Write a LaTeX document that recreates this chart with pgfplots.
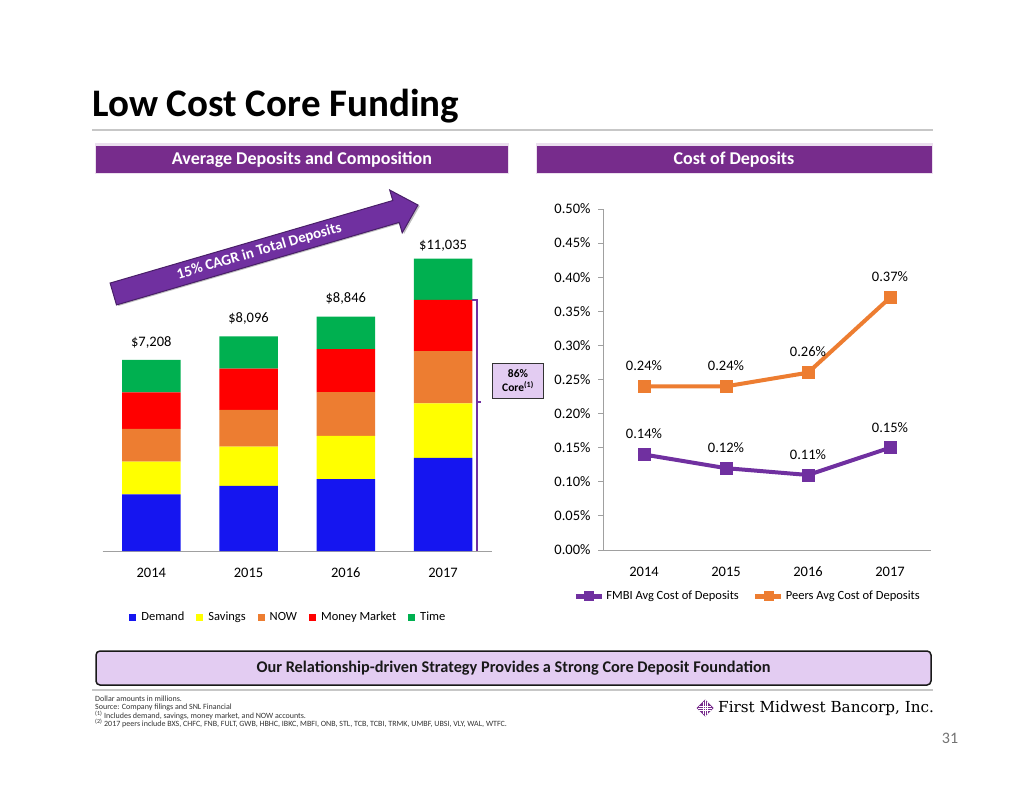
\documentclass[border=0pt]{standalone}
\usepackage{fontspec}
\setmainfont{Carlito}
\newfontfamily\logofont{DejaVu Serif}
\usepackage{pgfplots}
\usepackage{pgfplotstable}
\pgfplotsset{compat=1.18}
\pgfplotsset{/pgf/number format/assume math mode=true}

\definecolor{hdr}{HTML}{772C8C}
\definecolor{arrowp}{HTML}{7030A0}
\definecolor{fmbi}{HTML}{7030A0}
\definecolor{peers}{HTML}{ED7D31}
\definecolor{cdem}{HTML}{1515F0}
\definecolor{csav}{HTML}{FFFF00}
\definecolor{cnow}{HTML}{ED7D31}
\definecolor{cmm}{HTML}{FF0000}
\definecolor{ctime}{HTML}{00B050}
\definecolor{lav}{HTML}{E3CCF2}
\definecolor{axgrey}{HTML}{A0A0A0}

% average deposits, $ millions
\pgfplotstableread{
x Demand Savings NOW MM Time Total
0 2140 1230 1234 1385 1219 7208
1 2459 1484 1378 1559 1216 8096
2 2708 1635 1650 1624 1229 8846
3 3517 2051 1972 1934 1561 11035
}\deposits

% cost of deposits, %
\pgfplotstableread{
x FMBI Peers
0 0.14 0.24
1 0.12 0.24
2 0.11 0.26
3 0.15 0.37
}\cost

\begin{document}
\begin{tikzpicture}[x=1pt,y=-1pt]
\path[fill=white, use as bounding box] (0,0) rectangle (1024,791);

% title
\node[anchor=base west, inner sep=0] at (92,117) {\fontsize{39}{42}\selectfont\bfseries Low Cost Core Funding};
\draw[line width=2.5pt, black!22] (92,130) -- (933,130);

% section headers
\fill[hdr!15] (95,143) rectangle (509,174);
\fill[hdr] (96,146) rectangle (508,173);
\node[white, font=\fontsize{18}{20}\selectfont\bfseries] at (302,159.5) {Average Deposits and Composition};
\fill[hdr!15] (536,143) rectangle (933,174);
\fill[hdr] (537,146) rectangle (932,173);
\node[white, font=\fontsize{18}{20}\selectfont\bfseries] at (734,159.5) {Cost of Deposits};

% stacked bars
\begin{axis}[
    at={(102.7pt,-551pt)}, anchor=south west,
    scale only axis, width=389pt, height=318pt,
    xmin=-0.5, xmax=3.5, ymin=0, ymax=12000,
    ybar stacked, bar width=58.5pt,
    axis y line=none, axis x line*=bottom,
    x axis line style={draw=axgrey, line width=1pt},
    xtick={0,1,2,3}, xticklabels={2014,2015,2016,2017},
    major tick length=0pt,
    xticklabel style={font=\fontsize{14.5}{16}\selectfont, text height=9.5pt, text depth=0pt, yshift=-13pt},
    every axis plot post/.append style={
        legend image code/.code={\fill[##1] (0pt,-3.5pt) rectangle (7pt,3.5pt);}},
    legend columns=5,
    legend style={at={(0.068,-0.208)}, anchor=west, draw=none, fill=none,
        inner sep=0pt, font=\fontsize{12.5}{14}\selectfont,
        /tikz/every odd column/.append style={column sep=3pt},
        /tikz/every even column/.append style={column sep=10pt}},
]
\addplot[fill=cdem, draw=none] table[x=x, y=Demand]{\deposits};
\addlegendentry{Demand}
\addplot[fill=csav, draw=none] table[x=x, y=Savings]{\deposits};
\addlegendentry{Savings}
\addplot[fill=cnow, draw=none] table[x=x, y=NOW]{\deposits};
\addlegendentry{NOW}
\addplot[fill=cmm, draw=none] table[x=x, y=MM]{\deposits};
\addlegendentry{Money Market}
\addplot[fill=ctime, draw=none,
    point meta=\thisrow{Total},
    nodes near coords={\$\pgfmathprintnumber[1000 sep={,}]{\pgfplotspointmeta}},
    every node near coord/.append style={black, yshift=34pt,
        font=\fontsize{14.5}{16}\selectfont}]
    table[x=x, y=Time]{\deposits};
\addlegendentry{Time}
\end{axis}

% growth arrow
\begin{scope}[shift={(113.3,294)}, rotate=16.28]
\fill[black!25] (1.5,-9.9) -- (296,-9.9) -- (296,-20.8) -- (318.9,1.5) -- (296,23.8) -- (296,12.9) -- (1.5,12.9) -- cycle;
\filldraw[fill=arrowp, draw=arrowp!65!black, line width=1pt]
  (0,-11.4) -- (294.5,-11.4) -- (294.5,-22.3) -- (317.4,0) -- (294.5,22.3) -- (294.5,11.4) -- (0,11.4) -- cycle;
\node[white, rotate=16.28, font=\fontsize{15}{17}\selectfont\bfseries] at (152,0) {15\% CAGR in Total Deposits};
\end{scope}

% core bracket
\draw[arrowp, line width=1.6pt] (472,299.7) -- (477,299.7) -- (477,551);
\draw[arrowp, line width=1.6pt] (477,402) -- (481,402);
\node[draw=black!80, fill=lav, line width=1pt, minimum width=51pt, minimum height=35pt,
      align=center, inner sep=1pt, font=\fontsize{11.5}{14}\selectfont\bfseries]
      at (518,380.5) {86\%\\Core\textsuperscript{(1)}};

% cost of deposits lines
\begin{axis}[
    at={(603pt,-550pt)}, anchor=south west,
    scale only axis, width=328pt, height=341pt,
    xmin=-0.5, xmax=3.5, ymin=0, ymax=0.5,
    axis x line*=bottom, axis y line*=left,
    axis line style={draw=axgrey, line width=1pt},
    xtick={0,1,2,3}, xticklabels={2014,2015,2016,2017},
    ytick={0,0.05,0.1,0.15,0.2,0.25,0.3,0.35,0.4,0.45,0.5},
    yticklabel={\pgfmathprintnumber[fixed,fixed zerofill,precision=2]{\tick}\%},
    tick align=outside, major tick length=5pt,
    x tick style={draw=none}, y tick style={draw=axgrey, line width=1pt},
    tick label style={font=\fontsize{14.5}{16}\selectfont},
    xticklabel style={text height=9.5pt, text depth=0pt, yshift=-8pt},
    yticklabel style={xshift=-4pt},
    every axis plot post/.append style={
        legend image code/.code={\draw[mark repeat=2, mark phase=2, ##1, line width=5pt, mark size=4.5pt]
            plot coordinates {(0pt,0pt) (13pt,0pt) (26pt,0pt)};}},
    legend columns=2,
    legend style={at={(-0.091,-0.135)}, anchor=west, draw=none, fill=none,
        inner sep=0pt, font=\fontsize{12.5}{14}\selectfont,
        /tikz/every even column/.append style={column sep=12pt}},
    point meta=y,
    nodes near coords={\pgfmathprintnumber[fixed,fixed zerofill,precision=2]{\pgfplotspointmeta}\%},
    every node near coord/.append style={black, anchor=south, yshift=12pt,
        font=\fontsize{14.5}{16}\selectfont},
]
\addplot[fmbi, line width=4pt, mark=square*, mark size=6pt, mark options={line width=0.5pt}]
    table[x=x, y=FMBI]{\cost};
\addlegendentry{FMBI Avg Cost of Deposits}
\addplot[peers, line width=4pt, mark=square*, mark size=6pt, mark options={line width=0.5pt}]
    table[x=x, y=Peers]{\cost};
\addlegendentry{Peers Avg Cost of Deposits}
\end{axis}

% bottom banner
\draw[fill=lav, draw=black!90, line width=1.5pt, rounded corners=4pt] (96,651) rectangle (931,685);
\node[font=\fontsize{16.3}{18}\selectfont\bfseries, text=black!90] at (513.5,668) {Our Relationship-driven Strategy Provides a Strong Core Deposit Foundation};
\draw[line width=2.5pt, black!22] (92,690) -- (933,690);

% footnotes
\begin{scope}[every node/.style={anchor=base west, inner sep=0, font=\fontsize{8}{9}\selectfont, text=black!80}]
\node at (95,701) {Dollar amounts in millions.};
\node at (95,709.5) {Source: Company filings and SNL Financial};
\node at (95,718) {\textsuperscript{(1)} Includes demand, savings, money market, and NOW accounts.};
\node at (95,726.5) {\textsuperscript{(2)} 2017 peers include BXS, CHFC, FNB, FULT, GWB, HBHC, IBKC, MBFI, ONB, STL, TCB, TCBI, TRMK, UMBF, UBSI, VLY, WAL, WTFC.};
\end{scope}

% logo
\fill[hdr] (705,699.5) -- (713.5,708) -- (705,716.5) -- (696.5,708) -- cycle;
\draw[white, line width=0.5pt] (703,702) -- (703,714) (705,700) -- (705,716) (707,702) -- (707,714)
    (699,706) -- (711,706) (698,708) -- (712,708) (699,710) -- (711,710);
\node[anchor=west, inner sep=0] at (718,708) {\logofont\fontsize{15.2}{17}\selectfont First Midwest Bancorp, Inc.};
\node[text=black!55, font=\fontsize{16}{18}\selectfont] at (950,738) {31};
\end{tikzpicture}
\end{document}
